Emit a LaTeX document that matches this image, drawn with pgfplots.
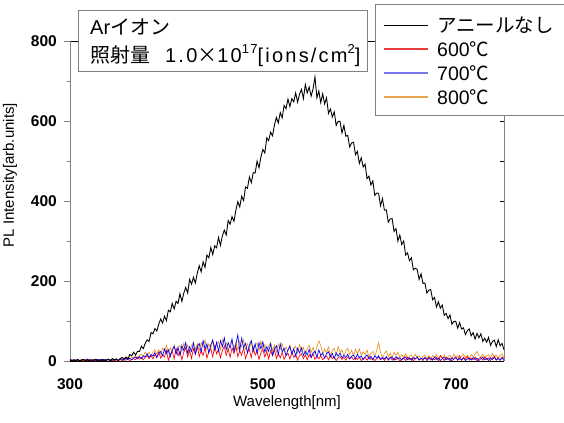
\documentclass[border=0pt]{standalone}
\usepackage{fontspec}
\setmainfont{Liberation Sans}
\newfontfamily\jp{Noto Sans CJK JP}
\usepackage{pgfplots}
\pgfplotsset{compat=1.18}
\definecolor{myorange}{RGB}{230,145,35}
\definecolor{axgray}{RGB}{128,128,128}
\definecolor{legblue}{RGB}{120,120,240}
\definecolor{legred}{RGB}{230,60,60}
\definecolor{legorange}{RGB}{230,165,80}
\begin{document}
\begin{tikzpicture}
\useasboundingbox (-70bp,-62bp) rectangle (494bp,361bp);
\clip (-70bp,-62bp) rectangle (494bp,361bp);
\begin{axis}[
  at={(0,0)}, anchor=south west,
  scale only axis, width=434bp, height=320bp,
  xmin=300, xmax=750, ymin=0, ymax=800,
  clip=false,
  xtick={300,400,500,600,700},
  ytick={0,200,400,600,800},
  minor ytick={100,300,500,700},
  ytick pos=left, xtick pos=bottom,
  tick align=outside,
  xtick style={draw=none},
  ytick style={axgray, line width=0.7pt},
  major tick length=6bp, minor tick length=3bp,
  separate axis lines,
  x axis line style={black, line width=0.8pt},
  y axis line style={axgray, line width=0.8pt},
  /pgf/number format/assume math mode=true,
  ticklabel style={font=\bfseries\fontsize{15.5bp}{16bp}\selectfont},
  yticklabel style={anchor=east, inner sep=0pt, xshift=-7bp},
  xticklabel style={anchor=north, inner sep=0pt, yshift=-11bp},
  xlabel={Wavelength[nm]},
  ylabel={PL Intensity[arb.units]},
  xlabel style={at={(axis description cs:0.5,-0.131)}, anchor=center, font=\fontsize{15bp}{16bp}\selectfont},
  ylabel style={at={(axis description cs:-0.138,0.581)}, anchor=center, font=\fontsize{15bp}{16bp}\selectfont},
]
% 800 C
\addplot[myorange, line width=0.65pt] coordinates {
(300,2)(302,4)(304,1)(306,3)(308,5)(310,2)(312,4)(314,1)(316,4)(318,3)(320,5)(322,2)(324,4)(326,2)(328,5)(330,1)(332,3)(334,4)(336,1)(338,5)
(340,2)(342,4)(344,1)(346,3)(348,5)(350,2)(352,5)(354,3)(356,7)(358,6)(360,10)(362,6)(364,10)(366,8)(368,13)(370,7)(372,14)(374,17)(376,12)(378,22)
(380,16)(382,22)(384,13)(386,22)(388,28)(390,18)(392,28)(394,17)(396,32)(398,25)(400,39)(402,21)(404,33)(406,24)(408,39)(410,19)(412,33)(414,39)(416,23)(418,45)
(420,30)(422,40)(424,22)(426,38)(428,47)(430,28)(432,43)(434,25)(436,46)(438,35)(440,52)(442,28)(444,43)(446,32)(448,50)(450,25)(452,41)(454,48)(456,28)(458,54)
(460,36)(462,46)(464,26)(466,43)(468,52)(470,31)(472,46)(474,27)(476,49)(478,36)(480,53)(482,29)(484,43)(486,31)(488,49)(490,24)(492,39)(494,45)(496,25)(498,50)
(500,32)(502,41)(504,22)(506,37)(508,46)(510,26)(512,40)(514,22)(516,42)(518,30)(520,44)(522,23)(524,35)(526,25)(528,40)(530,19)(532,31)(534,37)(536,20)(538,41)
(540,25)(542,34)(544,17)(546,31)(548,39)(550,21)(552,34)(554,17)(556,36)(558,50)(560,39)(562,18)(564,30)(566,20)(568,35)(570,14)(572,26)(574,32)(576,15)(578,36)
(580,21)(582,28)(584,13)(586,25)(588,32)(590,16)(592,27)(594,13)(596,29)(598,19)(600,30)(602,14)(604,23)(606,16)(608,27)(610,10)(612,20)(614,24)(616,11)(618,27)
(620,46)(622,21)(624,8)(626,19)(628,25)(630,11)(632,20)(634,8)(636,22)(638,14)(640,22)(642,9)(644,16)(646,9)(648,18)(650,5)(652,12)(654,15)(656,5)(658,17)
(660,9)(662,13)(664,4)(666,11)(668,15)(670,6)(672,13)(674,5)(676,14)(678,9)(680,16)(682,6)(684,12)(686,7)(688,15)(690,4)(692,11)(694,14)(696,6)(698,17)
(700,9)(702,13)(704,5)(706,12)(708,17)(710,8)(712,15)(714,6)(716,16)(718,11)(720,18)(722,24)(724,14)(726,9)(728,17)(730,6)(732,13)(734,16)(736,8)(738,19)
(740,11)(742,15)(744,7)(746,14)(748,18)(750,9)
};
% 600 C
\addplot[red, line width=0.65pt] coordinates {
(300,3)(302,1)(304,2)(306,0)(308,3)(310,1)(312,3)(314,0)(316,2)(318,1)(320,3)(322,0)(324,2)(326,2)(328,0)(330,3)(332,1)(334,2)(336,0)(338,2)
(340,3)(342,1)(344,2)(346,0)(348,3)(350,1)(352,4)(354,1)(356,3)(358,2)(360,5)(362,1)(364,4)(366,6)(368,3)(370,10)(372,5)(374,9)(376,3)(378,9)
(380,14)(382,6)(384,13)(386,5)(388,16)(390,10)(392,22)(394,7)(396,16)(398,10)(400,26)(402,1)(404,17)(406,25)(408,5)(410,32)(412,13)(414,24)(416,3)(418,22)
(420,33)(422,10)(424,27)(426,6)(428,31)(430,17)(432,36)(434,11)(436,26)(438,14)(440,34)(442,7)(444,24)(446,31)(448,10)(450,38)(452,18)(454,29)(456,8)(458,26)
(460,37)(462,14)(464,30)(466,9)(468,33)(470,19)(472,37)(474,11)(476,26)(478,14)(480,33)(482,6)(484,22)(486,29)(488,8)(490,34)(492,15)(494,25)(496,4)(498,21)
(500,30)(502,10)(504,24)(506,5)(508,26)(510,13)(512,28)(514,6)(516,19)(518,8)(520,22)(522,4)(524,14)(526,19)(528,5)(530,22)(532,9)(534,16)(536,2)(538,13)
(540,18)(542,6)(544,15)(546,3)(548,16)(550,8)(552,18)(554,4)(556,12)(558,5)(560,14)(562,3)(564,9)(566,12)(568,3)(570,14)(572,6)(574,10)(576,1)(578,8)
(580,11)(582,4)(584,9)(586,2)(588,10)(590,5)(592,11)(594,3)(596,8)(598,4)(600,10)(602,1)(604,6)(606,9)(608,2)(610,11)(612,4)(614,7)(616,1)(618,6)
(620,10)(622,3)(624,8)(626,1)(628,9)(630,5)(632,10)(634,2)(636,7)(638,3)(640,9)(642,0)(644,5)(646,8)(648,1)(650,10)(652,4)(654,7)(656,0)(658,6)
(660,9)(662,2)(664,7)(666,1)(668,8)(670,4)(672,10)(674,2)(676,6)(678,3)(680,9)(682,0)(684,14)(686,8)(688,1)(690,10)(692,4)(694,7)(696,0)(698,6)
(700,10)(702,2)(704,13)(706,1)(708,9)(710,4)(712,11)(714,2)(716,7)(718,3)(720,10)(722,0)(724,6)(726,9)(728,2)(730,11)(732,4)(734,8)(736,1)(738,7)
(740,12)(742,3)(744,9)(746,1)(748,10)(750,5)
};
% 700 C
\addplot[blue, line width=0.65pt] coordinates {
(300,5)(302,1)(304,3)(306,2)(308,4)(310,0)(312,3)(314,4)(316,1)(318,5)(320,2)(322,3)(324,0)(326,3)(328,4)(330,1)(332,4)(334,1)(336,4)(338,2)
(340,5)(342,1)(344,3)(346,2)(348,4)(350,1)(352,4)(354,5)(356,2)(358,7)(360,4)(362,7)(364,3)(366,7)(368,10)(370,6)(372,11)(374,6)(376,13)(378,10)
(380,18)(382,9)(384,16)(386,12)(388,21)(390,8)(392,19)(394,24)(396,13)(398,30)(400,18)(402,28)(404,11)(406,27)(408,37)(410,17)(412,34)(414,14)(416,39)(418,26)
(420,46)(422,19)(424,36)(426,24)(428,45)(430,17)(432,35)(434,44)(436,22)(438,51)(440,31)(442,43)(444,20)(446,41)(448,53)(450,28)(452,47)(454,24)(456,51)(458,36)
(460,58)(462,28)(464,46)(466,32)(468,55)(470,23)(472,42)(474,66)(476,25)(478,57)(480,33)(482,44)(484,20)(486,40)(488,51)(490,25)(492,43)(494,19)(496,46)(498,30)
(500,48)(502,22)(504,36)(506,24)(508,43)(510,15)(512,31)(514,38)(516,16)(518,43)(520,23)(522,32)(524,13)(526,28)(528,37)(530,17)(532,31)(534,12)(536,32)(538,20)
(540,33)(542,14)(544,24)(546,15)(548,29)(550,9)(552,20)(554,25)(556,9)(558,28)(560,14)(562,20)(564,7)(566,18)(568,23)(570,10)(572,19)(574,6)(576,20)(578,12)
(580,20)(582,8)(584,14)(586,9)(588,17)(590,5)(592,12)(594,15)(596,5)(598,17)(600,8)(602,12)(604,4)(606,11)(608,15)(610,5)(612,12)(614,3)(616,13)(618,7)
(620,13)(622,4)(624,9)(626,5)(628,11)(630,2)(632,7)(634,10)(636,2)(638,11)(640,5)(642,8)(644,2)(646,7)(648,10)(650,3)(652,8)(654,2)(656,9)(658,5)
(660,10)(662,3)(664,7)(666,4)(668,9)(670,1)(672,6)(674,8)(676,2)(678,10)(680,4)(682,7)(684,1)(686,6)(688,9)(690,3)(692,7)(694,1)(696,8)(698,4)
(700,9)(702,2)(704,6)(706,3)(708,8)(710,1)(712,5)(714,7)(716,2)(718,9)(720,4)(722,7)(724,1)(726,6)(728,9)(730,3)(732,7)(734,1)(736,8)(738,4)
(740,9)(742,2)(744,6)(746,3)(748,8)(750,1)
};
% no anneal
\addplot[black, line width=0.9pt] coordinates {
(300,2)(302,0)(304,3)(306,1)(308,3)(310,0)(312,2)(314,4)(316,1)(318,3)(320,0)(322,3)(324,2)(326,4)(328,1)(330,3)(332,1)(334,4)(336,0)(338,3)
(340,4)(342,1)(344,6)(346,3)(348,5)(350,1)(352,6)(354,9)(356,5)(358,10)(360,5)(362,16)(364,13)(366,22)(368,15)(370,24)(372,24)(374,37)(376,31)(378,44)
(380,53)(382,49)(384,71)(386,68)(388,81)(390,75)(392,92)(394,105)(396,95)(398,112)(400,101)(402,127)(404,123)(406,144)(408,130)(410,149)(412,144)(414,168)(416,149)(418,170)
(420,184)(422,170)(424,204)(426,192)(428,209)(430,195)(432,220)(434,238)(436,223)(438,248)(440,234)(442,265)(444,258)(446,284)(448,266)(450,288)(452,283)(454,309)(456,289)(458,313)
(460,327)(462,315)(464,351)(466,342)(468,361)(470,349)(472,377)(474,398)(476,385)(478,412)(480,401)(482,435)(484,432)(486,460)(488,446)(490,471)(492,470)(494,500)(496,483)(498,511)
(500,529)(502,520)(504,558)(506,551)(508,572)(510,563)(512,590)(514,609)(516,595)(518,621)(520,608)(522,639)(524,631)(526,655)(528,636)(530,656)(532,648)(534,670)(536,647)(538,667)
(540,679)(542,656)(544,691)(546,670)(548,685)(550,662)(552,680)(554,710)(556,658)(558,675)(560,646)(562,668)(564,643)(566,658)(568,619)(570,630)(572,610)(574,623)(576,589)(578,599)
(580,599)(582,570)(584,589)(586,562)(588,564)(590,535)(592,545)(594,547)(596,516)(598,524)(600,494)(602,508)(604,485)(606,492)(608,456)(610,462)(612,440)(614,450)(616,414)(618,420)
(620,419)(622,388)(624,406)(626,377)(628,378)(630,347)(632,355)(634,356)(636,324)(638,331)(640,300)(642,315)(644,291)(646,300)(648,265)(650,270)(652,251)(654,258)(656,228)(658,232)
(660,229)(662,204)(664,218)(666,194)(668,195)(670,170)(672,177)(674,179)(676,153)(678,159)(680,135)(682,148)(684,132)(686,140)(688,114)(690,119)(692,106)(694,115)(696,92)(698,99)
(700,99)(702,82)(704,96)(706,80)(708,83)(710,66)(712,76)(714,80)(716,63)(718,71)(720,55)(722,69)(724,58)(726,68)(728,49)(730,57)(732,47)(734,59)(736,39)(738,49)
(740,52)(742,36)(744,53)(746,38)(748,44)(750,28)
};
% info box
\draw[draw=axgray, fill=white, line width=0.8pt] (axis description cs:0.01843,0.90625) rectangle (axis description cs:0.68433,1.09688);
\node[anchor=west, inner sep=0pt, font=\fontsize{20bp}{22bp}\selectfont] at (axis description cs:0.04608,1.04375) {Ar{\jp イオン}};
\node[anchor=west, inner sep=0pt, font=\fontsize{20bp}{22bp}\selectfont] at (axis description cs:0.04608,0.95313)
  {{\jp 照射量}\hspace{15bp}{\addfontfeature{LetterSpace=11}1.0{\jp ×}10\raisebox{0.45em}{\fontsize{13bp}{13bp}\selectfont 17}[ions/cm\raisebox{0.45em}{\fontsize{13bp}{13bp}\selectfont 2}]}};
% legend
\draw[draw=axgray, fill=white, line width=0.8pt] (axis description cs:0.70276,0.76875) rectangle (axis description cs:1.19816,1.11563);
\draw[draw=black, line width=0.9pt] (axis description cs:0.72350,1.05) -- (axis description cs:0.82488,1.05);
\draw[draw=legred, line width=1.1pt] (axis description cs:0.72350,0.975) -- (axis description cs:0.82488,0.975);
\draw[draw=legblue, line width=1.1pt] (axis description cs:0.72350,0.9) -- (axis description cs:0.82488,0.9);
\draw[draw=legorange, line width=1.1pt] (axis description cs:0.72350,0.825) -- (axis description cs:0.82488,0.825);
\node[anchor=west, inner sep=0pt, font=\fontsize{19.5bp}{21bp}\selectfont] at (axis description cs:0.84562,1.05) {\jp アニールなし};
\node[anchor=west, inner sep=0pt, font=\fontsize{19.5bp}{21bp}\selectfont] at (axis description cs:0.84562,0.975) {600{\jp ℃}};
\node[anchor=west, inner sep=0pt, font=\fontsize{19.5bp}{21bp}\selectfont] at (axis description cs:0.84562,0.9) {700{\jp ℃}};
\node[anchor=west, inner sep=0pt, font=\fontsize{19.5bp}{21bp}\selectfont] at (axis description cs:0.84562,0.825) {800{\jp ℃}};
\end{axis}
\begin{axis}[
  at={(0,0)}, anchor=south west,
  scale only axis, width=434bp, height=320bp,
  xmin=300, xmax=750, ymin=0, ymax=800,
  axis line style={draw=none},
  xtick=\empty,
  ytick={0,100,200,300,400,500,600},
  yticklabels={},
  ytick pos=right, tick align=inside,
  major tick length=4bp,
  ytick style={black, line width=0.7pt},
]
\end{axis}
\end{tikzpicture}
\end{document}
